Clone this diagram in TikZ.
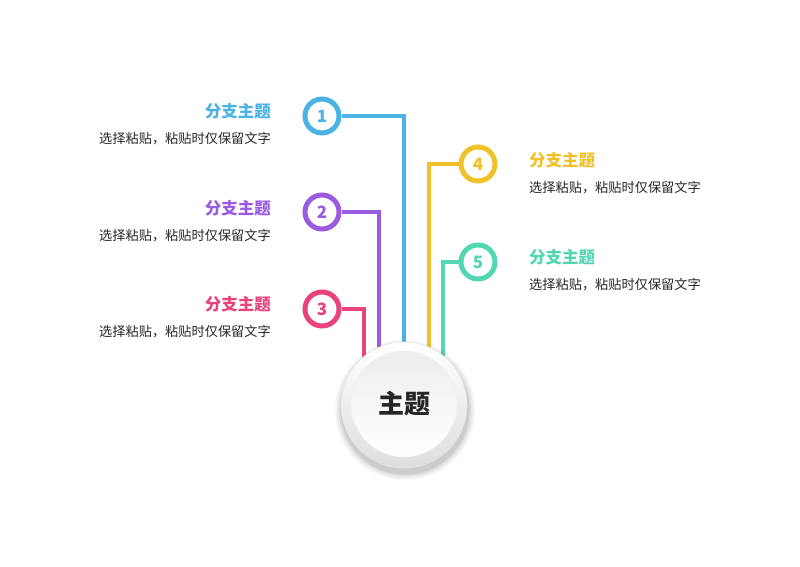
\documentclass[tikz,border=0pt]{standalone}
\usepackage{fontspec}
\newfontfamily\cjk{Noto Sans CJK SC}
\usetikzlibrary{backgrounds}
\definecolor{cA}{HTML}{4BB2E5}
\definecolor{cB}{HTML}{9A5BE0}
\definecolor{cC}{HTML}{E8437C}
\definecolor{cD}{HTML}{F0C12A}
\definecolor{cE}{HTML}{52D6B4}
\definecolor{txt}{HTML}{262626}
\tikzset{
  num/.style={circle, draw=#1, line width=5pt, fill=white, minimum size=34pt, inner sep=0pt, text=#1, font=\cjk\bfseries\fontsize{17}{17}\selectfont},
  link/.style={draw=#1, line width=3.5pt},
  ttl/.style={text=#1, font=\cjk\bfseries\fontsize{16.5}{18}\selectfont, inner sep=0pt},
  sub/.style={text=txt, font=\cjk\fontsize{13.2}{15}\selectfont, inner sep=0pt},
}
\begin{document}
\begin{tikzpicture}[x=1pt,y=-1pt]
\useasboundingbox (0,0) rectangle (800,566);
% branch circles
\node[num=cA] (c1) at (322,116) {1};
\node[num=cB] (c2) at (322,212) {2};
\node[num=cC] (c3) at (322,309) {3};
\node[num=cD] (c4) at (478,164) {4};
\node[num=cE] (c5) at (478,262) {5};
% connector ends
\coordinate (e1) at (404,352);
\coordinate (e2) at (379,360);
\coordinate (e3) at (364,372);
\coordinate (e4) at (429,360);
\coordinate (e5) at (443,372);
\begin{pgfonlayer}{background}
\draw[link=cA] (c1.east) -| (e1);
\draw[link=cB] (c2.east) -| (e2);
\draw[link=cC] (c3.east) -| (e3);
\draw[link=cD] (c4.west) -| (e4);
\draw[link=cE] (c5.west) -| (e5);
\end{pgfonlayer}
% center shadow
\foreach \r/\o in {70/0.04,68/0.05,66/0.06,64.5/0.07}{
  \fill[black, opacity=\o] (405,410) circle (\r);
}
\node[circle, minimum size=126pt, inner sep=0pt, draw=black!10, line width=0.6pt,
  top color=white, bottom color=black!13] (m) at (404,405) {};
\node[circle, minimum size=106pt, inner sep=0pt, draw=black!6, line width=0.5pt,
  top color=black!7, bottom color=white] (mi) at (404,404) {};
\node[text=txt, font=\cjk\bfseries\fontsize{26}{28}\selectfont] (mt) at (mi) {主题};
% texts left
\node[ttl=cA, anchor=base east] (t1) at (271,117) {分支主题};
\node[sub, anchor=base east] (s1) at (271,143) {选择粘贴，粘贴时仅保留文字};
\node[ttl=cB, anchor=base east] (t2) at (271,214) {分支主题};
\node[sub, anchor=base east] (s2) at (271,240) {选择粘贴，粘贴时仅保留文字};
\node[ttl=cC, anchor=base east] (t3) at (271,310) {分支主题};
\node[sub, anchor=base east] (s3) at (271,336) {选择粘贴，粘贴时仅保留文字};
% texts right
\node[ttl=cD, anchor=base west] (t4) at (529,166) {分支主题};
\node[sub, anchor=base west] (s4) at (529,192) {选择粘贴，粘贴时仅保留文字};
\node[ttl=cE, anchor=base west] (t5) at (529,263) {分支主题};
\node[sub, anchor=base west] (s5) at (529,289) {选择粘贴，粘贴时仅保留文字};
\end{tikzpicture}
\end{document}
